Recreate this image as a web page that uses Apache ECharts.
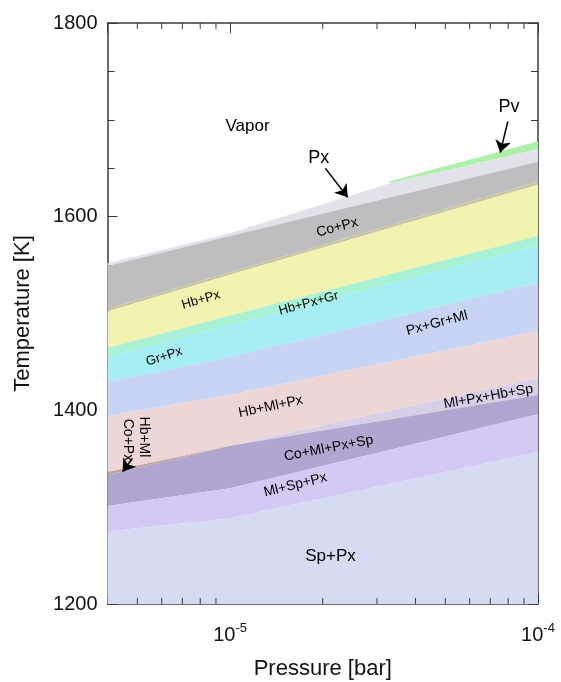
<!DOCTYPE html>
<html>
<head>
<meta charset="utf-8">
<script src="https://cdn.jsdelivr.net/npm/echarts@6/dist/echarts.min.js"></script>
<style>
  html, body { margin: 0; padding: 0; background: #fff; }
  #chart { width: 561px; height: 682px; }
</style>
</head>
<body>
<div id="chart"></div>
<script>
// pressures (bar) at which boundaries were read
const P3 = [4e-6, 1e-5, 1e-4];
const pxTopP = [4e-6, 1e-5, 3.3e-5, 1e-4];
const pvP = [3.3e-5, 1e-4];

// boundary temperatures (K)
const pvTopT = [1636.5, 1678];
const pvBottomT = [1634.5, 1669.6];
const pxTopT = [1552, 1583, 1634.5, 1669.6];
const coTopT = [1549, 1580, 1656.8];
const oliveTopT = [1505, 1542.5, 1636.3];
const oliveBottomT = [1502, 1540, 1633];
const mintTopT = [1464.4, 1498, 1580];
const cyanTopT = [1455.1, 1488, 1570.7];
const blueTopT = [1429.3, 1455, 1531.8];
const pinkTopT = [1394.2, 1416, 1481.9];
const pinkBottomT = [1336.3, 1363.5, 1433.4];
const darkTopT = [1333.2, 1363.5, 1415.8];
const darkBottomT = [1301.2, 1319.5, 1396];
const lilacBottomT = [1274.9, 1288.5, 1357];
const floorT = [1200, 1200, 1200];

// phase labels
const labelNames = ['Vapor', 'Px', 'Pv', 'Co+Px', 'Hb+Px', 'Hb+Px+Gr', 'Gr+Px', 'Px+Gr+Ml',
  'Hb+Ml+Px', 'Ml+Px+Hb+Sp', 'Co+Ml+Px+Sp', 'Ml+Sp+Px', 'Sp+Px', 'Hb+Ml', 'Co+Px'];
const labelP = [1.14e-5, 1.94e-5, 8.05e-5, 2.23e-5, 8.04e-6, 1.8e-5, 6.11e-6, 4.7e-5,
  1.355e-5, 6.9e-5, 2.09e-5, 1.63e-5, 2.12e-5, 5.26e-6, 4.65e-6];
const labelT = [1693.6, 1660.3, 1713.3, 1588.8, 1513.9, 1510.5, 1455.4, 1489.9,
  1403.8, 1414.1, 1360.8, 1322.9, 1248.9, 1372.5, 1369.4];

// arrows: [P, T] start -> end
const arrowFrom = [[2.04e-5, 1649.9], [7.98e-5, 1698.3], [4.82e-6, 1350.5]];
const arrowTo = [[2.41e-5, 1620.0], [7.54e-5, 1666.3], [4.48e-6, 1336.6]];

// minor ticks on the log axis
const minorTicksP = [5e-6, 6e-6, 7e-6, 8e-6, 9e-6, 2e-5, 3e-5, 4e-5, 5e-5, 6e-5, 7e-5, 8e-5, 9e-5];

const zip = (ps, ts) => ps.map((p, i) => [p, ts[i]]);

const bands = [
  { name: 'Pv', upper: zip(pvP, pvTopT), lower: zip(pvP, pvBottomT), color: '#adf0a9' },
  { name: 'Px', upper: zip(pxTopP, pxTopT), lower: zip(P3, coTopT), color: '#e2e2ea' },
  { name: 'Co+Px', upper: zip(P3, coTopT), lower: zip(P3, oliveTopT), color: '#bebec1' },
  { name: 'edge', upper: zip(P3, oliveTopT), lower: zip(P3, oliveBottomT), color: '#cac69e' },
  { name: 'Hb+Px', upper: zip(P3, oliveBottomT), lower: zip(P3, mintTopT), color: '#f2f2b1' },
  { name: 'Hb+Px+Gr', upper: zip(P3, mintTopT), lower: zip(P3, cyanTopT), color: '#aaf2d6' },
  { name: 'Gr+Px', upper: zip(P3, cyanTopT), lower: zip(P3, blueTopT), color: '#a6eef3' },
  { name: 'Px+Gr+Ml', upper: zip(P3, blueTopT), lower: zip(P3, pinkTopT), color: '#c8d4f3' },
  { name: 'Hb+Ml+Px', upper: zip(P3, pinkTopT), lower: zip(P3, pinkBottomT), color: '#ecd6d6' },
  { name: 'Co+Px low', upper: zip(P3.slice(0, 2), pinkBottomT.slice(0, 2)),
    lower: zip(P3.slice(0, 2), darkTopT.slice(0, 2)), color: '#c0a29c' },
  { name: 'Ml+Px+Hb+Sp', upper: zip(P3.slice(1), pinkBottomT.slice(1)),
    lower: zip(P3.slice(1), darkTopT.slice(1)), color: '#d8cfe6' },
  { name: 'Co+Ml+Px+Sp', upper: zip(P3, darkTopT), lower: zip(P3, darkBottomT), color: '#b1a6d0' },
  { name: 'Ml+Sp+Px', upper: zip(P3, darkBottomT), lower: zip(P3, lilacBottomT), color: '#d4c9f3' },
  { name: 'Sp+Px', upper: zip(P3, lilacBottomT), lower: zip(P3, floorT), color: '#d5dbf3' }
];

// label look: [rotation, font size]
const labelLook = {
  'Vapor': [0, 17], 'Px': [0, 18], 'Pv': [0, 18], 'Co+Px': [15, 14], 'Hb+Px': [16, 13],
  'Hb+Px+Gr': [15, 13], 'Gr+Px': [18, 13], 'Px+Gr+Ml': [15, 14], 'Hb+Ml+Px': [12, 14],
  'Ml+Px+Hb+Sp': [10, 14], 'Co+Ml+Px+Sp': [11, 14], 'Ml+Sp+Px': [14, 14], 'Sp+Px': [0, 17],
  'Hb+Ml': [-90, 14]
};

const axisColor = '#3a3a3a';
const fontFamily = '"Liberation Sans", Arial, sans-serif';

const bandSeries = bands.map(b => ({
  type: 'custom',
  name: b.name,
  clip: true,
  silent: true,
  z: 1,
  data: b.upper,
  renderItem: function (params, api) {
    if (params.dataIndex !== 0) return null;
    const pts = b.upper.map(d => api.coord(d))
      .concat(b.lower.slice().reverse().map(d => api.coord(d)));
    return { type: 'polygon', shape: { points: pts }, style: { fill: b.color } };
  }
}));

const minorTickSeries = {
  type: 'custom',
  silent: true,
  z: 5,
  data: minorTicksP.map(p => [p, 1200]),
  renderItem: function (params, api) {
    const p = api.value(0);
    const b = api.coord([p, 1200]);
    const t = api.coord([p, 1800]);
    const st = { stroke: axisColor, lineWidth: 1 };
    return {
      type: 'group',
      children: [
        { type: 'line', shape: { x1: b[0], y1: b[1], x2: b[0], y2: b[1] - 6 }, style: st },
        { type: 'line', shape: { x1: t[0], y1: t[1], x2: t[0], y2: t[1] + 6 }, style: st }
      ]
    };
  }
};

const labelSeries = {
  type: 'scatter',
  silent: true,
  z: 10,
  symbolSize: 1,
  itemStyle: { color: 'rgba(0,0,0,0)' },
  data: labelNames.map((n, i) => {
    const look = labelLook[n] || [-90, 14];
    const vertical = (i === labelNames.length - 1);
    return {
      name: n,
      value: [labelP[i], labelT[i]],
      label: {
        show: true,
        position: 'inside',
        formatter: '{b}',
        rotate: vertical ? -90 : look[0],
        fontSize: look[1],
        color: '#000',
        opacity: 1,
        textBorderWidth: 0,
        fontFamily: fontFamily
      }
    };
  })
};

const arrowSeries = {
  type: 'lines',
  coordinateSystem: 'cartesian2d',
  silent: true,
  z: 11,
  symbol: ['none', 'arrow'],
  symbolSize: 12,
  lineStyle: { color: '#000', width: 1.5, opacity: 1 },
  data: arrowFrom.map((a, i) => ({ coords: [a, arrowTo[i]] }))
};

function powLabel(v) {
  const e = Math.log10(v);
  const r = Math.round(e);
  if (Math.abs(e - r) > 1e-6 || r < -5) return '';
  return '{b|10}{s|' + r + '}';
}

const option = {
  backgroundColor: '#fff',
  animation: false,
  grid: { left: 107.5, right: 23, top: 23, bottom: 78, outerBoundsMode: 'none', containLabel: false },
  xAxis: [{
    type: 'log',
    logBase: 10,
    min: 4e-6,
    max: 1e-4,
    position: 'bottom',
    name: 'Pressure [bar]',
    nameLocation: 'middle',
    nameGap: 54,
    nameTextStyle: { fontSize: 22, color: '#111', fontFamily: fontFamily },
    axisLine: { show: true, lineStyle: { color: axisColor, width: 1.5 } },
    axisTick: { show: true, inside: true, length: 10, lineStyle: { color: axisColor } },
    splitLine: { show: false },
    axisLabel: {
      margin: 18,
      showMinLabel: true,
      showMaxLabel: true,
      formatter: powLabel,
      rich: {
        b: { fontSize: 20, color: '#111', fontFamily: fontFamily, lineHeight: 26 },
        s: { fontSize: 13, color: '#111', fontFamily: fontFamily, lineHeight: 26, verticalAlign: 'top' }
      }
    }
  }, {
    type: 'log',
    logBase: 10,
    min: 4e-6,
    max: 1e-4,
    position: 'top',
    axisLine: { show: true, lineStyle: { color: axisColor, width: 1.5 } },
    axisTick: { show: true, inside: true, length: 10, lineStyle: { color: axisColor } },
    axisLabel: { show: false },
    splitLine: { show: false }
  }],
  yAxis: [{
    type: 'value',
    min: 1200,
    max: 1800,
    interval: 200,
    position: 'left',
    name: 'Temperature [K]',
    nameLocation: 'middle',
    nameGap: 74,
    nameTextStyle: { fontSize: 22, color: '#111', fontFamily: fontFamily },
    axisLine: { show: true, lineStyle: { color: axisColor, width: 1.5 } },
    axisTick: { show: true, inside: true, length: 10, lineStyle: { color: axisColor } },
    minorTick: { show: true, splitNumber: 4, length: 7, lineStyle: { color: axisColor } },
    splitLine: { show: false },
    minorSplitLine: { show: false },
    axisLabel: { fontSize: 20, color: '#111', fontFamily: fontFamily, margin: 10,
      formatter: v => String(v) }
  }, {
    type: 'value',
    min: 1200,
    max: 1800,
    interval: 200,
    position: 'right',
    axisLine: { show: true, lineStyle: { color: axisColor, width: 1.5 } },
    axisTick: { show: true, inside: true, length: 10, lineStyle: { color: axisColor } },
    minorTick: { show: true, splitNumber: 4, length: 7, lineStyle: { color: axisColor } },
    splitLine: { show: false },
    axisLabel: { show: false }
  }],
  series: bandSeries.concat([minorTickSeries, labelSeries, arrowSeries])
};

const chart = echarts.init(document.getElementById('chart'), null, { renderer: 'canvas' });
chart.setOption(option);
</script>
</body>
</html>
